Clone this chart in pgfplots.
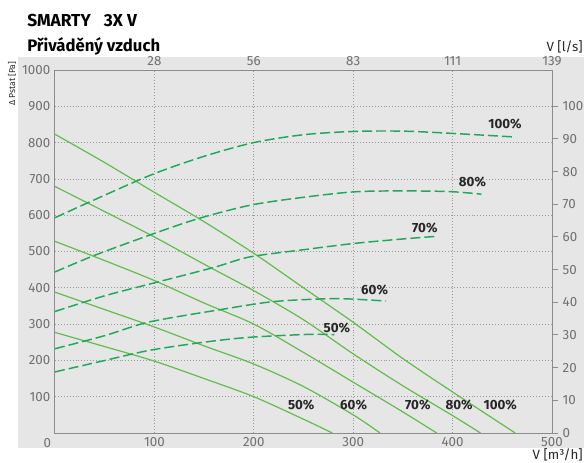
\documentclass[border=0pt]{standalone}
\usepackage{pgfplots}
\pgfplotsset{compat=1.18}
\usepackage{fontspec}
\setmainfont{Fira Sans}
\definecolor{bggray}{HTML}{E6E6E6}
\definecolor{axgray}{HTML}{8C8C8C}
\definecolor{gridgray}{HTML}{9A9A9A}
\definecolor{tickgray}{HTML}{707070}
\definecolor{solidgreen}{HTML}{62BC4E}
\definecolor{dashgreen}{HTML}{1EA95A}
\definecolor{labeldark}{HTML}{262626}
\begin{document}
\begin{tikzpicture}
\path[use as bounding box] (-41.25pt,-21.75pt) rectangle (396.75pt,324.75pt);
\fill[bggray] (-27.75pt,-11.25pt) rectangle (396.75pt,282pt);
% main axis: pressure (Pa) vs airflow (m3/h)
\begin{axis}[
  at={(0,0)}, anchor=south west, scale only axis,
  width=372.75pt, height=272.25pt,
  xmin=0, xmax=500, ymin=0, ymax=1000,
  xtick={100,200,300,400,500},
  ytick={100,200,...,1000},
  xtick pos=bottom, ytick pos=left,
  major tick length=0pt,
  grid=major,
  major grid style={gridgray, line width=0.6pt, dash pattern=on 0.6pt off 1.6pt},
  axis line style={axgray, line width=0.75pt},
  tick label style={tickgray, font=\fontsize{10}{12}\selectfont},
  /pgf/number format/assume math mode=true,
  /pgf/number format/1000 sep={},
  clip=false,
]
\addplot[solidgreen, line width=0.9pt, smooth] coordinates {
 (0,823) (50,745) (100,663) (150,582) (200,495) (250,400) (300,305) (350,205) (400,113) (463,0)};
\addplot[solidgreen, line width=0.9pt, smooth] coordinates {
 (0,679) (50,610) (100,540) (150,465) (200,392) (250,312) (300,218) (350,130) (400,48) (428,0)};
\addplot[solidgreen, line width=0.9pt, smooth] coordinates {
 (0,528) (50,475) (100,420) (150,358) (200,300) (250,222) (300,140) (350,58) (384,0)};
\addplot[solidgreen, line width=0.9pt, smooth] coordinates {
 (0,388) (50,340) (100,292) (150,240) (200,190) (250,128) (300,50) (327,0)};
\addplot[solidgreen, line width=0.9pt, smooth] coordinates {
 (0,277) (50,238) (100,198) (150,150) (200,100) (250,38) (279,0)};
% curve labels
\begin{scope}[every node/.style={labeldark, font=\fontsize{10}{12}\selectfont\bfseries}]
\node at (axis cs:452.7,852) {100\%};
\node at (axis cs:420,691) {80\%};
\node at (axis cs:372,566) {70\%};
\node at (axis cs:321.5,393) {60\%};
\node at (axis cs:283.5,290) {50\%};
\node at (axis cs:247.7,76) {50\%};
\node at (axis cs:300.4,76) {60\%};
\node at (axis cs:365,76) {70\%};
\node at (axis cs:406.5,76) {80\%};
\node at (axis cs:448,76) {100\%};
\end{scope}
\end{axis}
% second axis: top l/s and right scale
\begin{axis}[
  at={(0,0)}, anchor=south west, scale only axis,
  width=372.75pt, height=272.25pt,
  xmin=0, xmax=500, ymin=0, ymax=111.111,
  axis x line*=top, axis y line*=right,
  xtick={100,200,300,400,500},
  xticklabels={28,56,83,111,139},
  ytick={0,10,...,100},
  tick align=outside,
  major tick length=4.5pt,
  xtick style={draw=none},
  ytick style={axgray, line width=0.75pt},
  axis line style={axgray, line width=0.75pt, -},
  tick label style={tickgray, font=\fontsize{10}{12}\selectfont},
  xticklabel style={yshift=-5pt},
  /pgf/number format/assume math mode=true,
]
\addplot[dashgreen, line width=1.1pt, smooth, dash pattern=on 7.5pt off 3pt] coordinates {
 (0,65.9) (50,72.8) (100,79.4) (150,84.7) (200,88.9) (250,91.3) (300,92.3) (350,92.4) (400,91.7) (463,90.6)};
\addplot[dashgreen, line width=1.1pt, smooth, dash pattern=on 7.5pt off 3pt] coordinates {
 (0,49.3) (40,54.4) (100,61.1) (145,65.7) (196,69.7) (246,72.0) (300,73.8) (347,74.1) (397,73.9) (429,73.1)};
\addplot[dashgreen, line width=1.1pt, smooth, dash pattern=on 7.5pt off 3pt] coordinates {
 (0,37.2) (50,42.0) (103,46.2) (160,50.7) (196,53.9) (250,56.1) (300,58.0) (350,59.4) (384,60.2)};
\addplot[dashgreen, line width=1.1pt, smooth, dash pattern=on 7.5pt off 3pt] coordinates {
 (0,25.8) (50,29.8) (95,34.0) (167,37.8) (216,40.1) (256,40.9) (290,41.1) (333,40.4)};
\addplot[dashgreen, line width=1.1pt, smooth, dash pattern=on 7.5pt off 3pt] coordinates {
 (0,18.7) (50,22.2) (95,25.3) (150,27.8) (196,29.3) (256,30.2) (281,30.1)};
\end{axis}
% extra texts
\node[tickgray, font=\fontsize{10}{12}\selectfont] at (-5.8pt,-7.5pt) {0};
\node[labeldark, font=\fontsize{6.5}{8}\selectfont, rotate=90, anchor=east] at (-32.25pt,282pt) {Δ Pstat [Pa]};
\node[labeldark, font=\fontsize{10}{12}\selectfont, anchor=east, inner sep=0pt] at (396pt,289.5pt) {V [l/s]};
\node[labeldark, font=\fontsize{10}{12}\selectfont, anchor=east, inner sep=0pt] at (396pt,-16.5pt) {V [m³/h]};
\node[black, font=\fontsize{13}{15}\selectfont\bfseries, anchor=base west, inner sep=0pt] at (-21pt,304.7pt) {SMARTY\hspace{0.75em}3X V};
\node[black, font=\fontsize{12.5}{14}\selectfont\bfseries, anchor=base west, inner sep=0pt] at (-21pt,286pt) {Přiváděný vzduch};
\end{tikzpicture}
\end{document}
